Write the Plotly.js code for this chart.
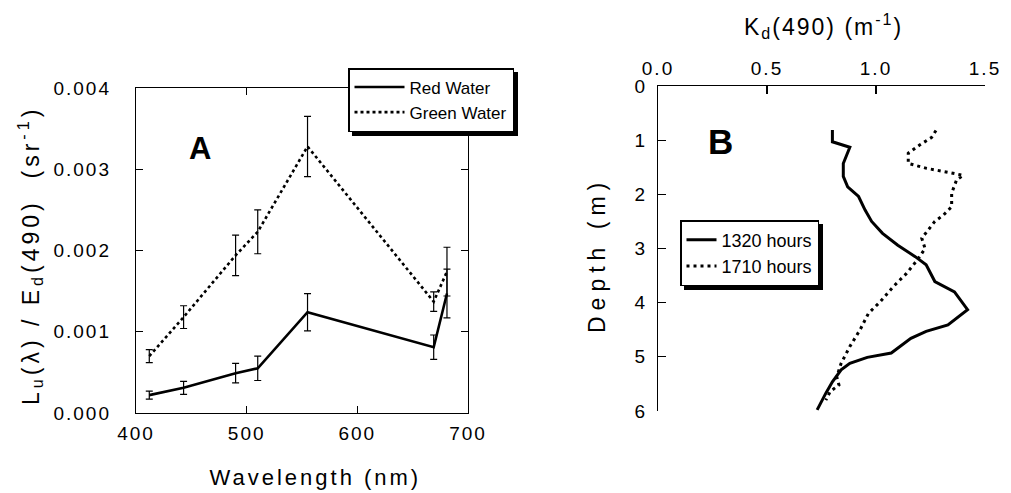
<!DOCTYPE html>
<html><head><meta charset="utf-8">
<script src="https://cdn.plot.ly/plotly-3.0.1.min.js"></script>
<style>
html,body{margin:0;padding:0;background:#fff;}
#chart{width:1011px;height:493px;}
.xtick text,.ytick text,.x2tick text,.y2tick text{letter-spacing:2px;}
.annotation[data-index="0"] text{letter-spacing:3px;}
.annotation[data-index="1"] text{letter-spacing:4px;}
.annotation[data-index="2"] text{letter-spacing:2px;}
.annotation[data-index="3"] text{letter-spacing:6px;}
g.legend rect.bg,g.legend2 rect.bg{filter:drop-shadow(4px 4px 0 #000);}
</style>
</head><body><div id="chart"></div>
<script>
// Panel A: reflectance ratio vs wavelength
const wavelengths = [412, 443, 490, 510, 555, 669, 681];
const redWater = [0.00022, 0.00031, 0.00049, 0.00055, 0.00124, 0.00081, 0.00147];
const redWaterErr = [0.00005, 0.00008, 0.00012, 0.00015, 0.00023, 0.00015, 0.00030];
const greenWater = [0.00070, 0.00118, 0.00194, 0.00223, 0.00328, 0.00137, 0.00174];
const greenWaterErr = [0.00008, 0.00014, 0.00025, 0.00027, 0.00037, 0.00012, 0.00030];

// Panel B: Kd(490) profiles
const depth1320 = [0.81, 1.03, 1.13, 1.43, 1.67, 1.86, 2.04, 2.29, 2.50, 2.72, 2.94, 3.15, 3.30, 3.61, 3.80, 4.13, 4.41, 4.53, 4.66, 4.93, 5.01, 5.12, 5.24, 5.46, 5.67, 5.98];
const kd1320 = [0.80, 0.80, 0.88, 0.85, 0.85, 0.87, 0.92, 0.95, 0.98, 1.03, 1.10, 1.18, 1.23, 1.27, 1.36, 1.42, 1.33, 1.23, 1.16, 1.07, 0.96, 0.88, 0.84, 0.80, 0.77, 0.73];
const depth1710 = [0.82, 0.95, 1.09, 1.24, 1.43, 1.52, 1.60, 1.65, 1.73, 1.98, 2.23, 2.38, 2.50, 2.66, 2.81, 3.00, 3.21, 3.46, 3.70, 3.98, 4.20, 4.50, 4.81, 5.12, 5.37, 5.52, 5.64, 5.80];
const kd1710 = [1.275, 1.255, 1.20, 1.148, 1.148, 1.232, 1.34, 1.40, 1.37, 1.347, 1.347, 1.31, 1.27, 1.24, 1.21, 1.225, 1.19, 1.14, 1.08, 1.02, 0.965, 0.927, 0.88, 0.84, 0.82, 0.83, 0.79, 0.77];

const W = 1011, H = 493;
const px = v => v / W;
const py = v => 1 - v / H;
const FONT = 'Liberation Sans, Arial, sans-serif';

const errStyle = {type: 'data', visible: true, color: '#000', thickness: 1.2, width: 3.5};

const traces = [
  {x: wavelengths, y: redWater, name: 'Red Water', type: 'scatter', mode: 'lines',
   line: {color: '#000', width: 2.6}, error_y: Object.assign({array: redWaterErr}, errStyle),
   xaxis: 'x', yaxis: 'y', legend: 'legend'},
  {x: wavelengths, y: greenWater, name: 'Green Water', type: 'scatter', mode: 'lines',
   line: {color: '#000', width: 2.6, dash: '3px,3px'}, error_y: Object.assign({array: greenWaterErr}, errStyle),
   xaxis: 'x', yaxis: 'y', legend: 'legend'},
  {x: kd1320, y: depth1320, name: '1320 hours', type: 'scatter', mode: 'lines',
   line: {color: '#000', width: 3}, xaxis: 'x2', yaxis: 'y2', legend: 'legend2'},
  {x: kd1710, y: depth1710, name: '1710 hours', type: 'scatter', mode: 'lines',
   line: {color: '#000', width: 3, dash: '3px,4px'}, xaxis: 'x2', yaxis: 'y2', legend: 'legend2'}
];

const axBase = {showgrid: false, zeroline: false, showline: true, linecolor: '#000', linewidth: 1.2,
  ticks: 'inside', tickcolor: '#000', tickwidth: 1.2, automargin: false,
  tickfont: {family: FONT, size: 19, color: '#000'}};

const layout = {
  width: W, height: H,
  margin: {l: 0, r: 0, t: 0, b: 0, pad: 0},
  paper_bgcolor: '#fff', plot_bgcolor: 'rgba(0,0,0,0)',
  font: {family: FONT, color: '#000'},
  showlegend: true,
  xaxis: Object.assign({}, axBase, {domain: [px(136), px(468)], range: [400, 700], dtick: 100, tick0: 400,
    ticklen: 7, mirror: 'ticks', anchor: 'y', ticklabelstandoff: 3}),
  yaxis: Object.assign({}, axBase, {domain: [py(413), py(88)], range: [0, 0.004], dtick: 0.001, tick0: 0,
    tickformat: '.3f', ticklen: 7, mirror: 'ticks', anchor: 'x', ticklabelstandoff: 20}),
  xaxis2: Object.assign({}, axBase, {domain: [px(658), px(985)], range: [0, 1.5], dtick: 0.5, tick0: 0,
    tickformat: '.1f', side: 'top', ticklen: 8, anchor: 'y2', ticklabelstandoff: 2}),
  yaxis2: Object.assign({}, axBase, {domain: [py(411), py(86)], range: [6, 0], dtick: 1, tick0: 0,
    ticklen: 8, anchor: 'x2', ticklabelstandoff: 6}),
  legend: {x: px(348), y: py(68), xanchor: 'left', yanchor: 'top', bgcolor: '#fff', bordercolor: '#000',
    borderwidth: 1.5, font: {family: FONT, size: 17, color: '#000'}, itemwidth: 50, tracegroupgap: 0},
  legend2: {x: px(680), y: py(220), xanchor: 'left', yanchor: 'top', bgcolor: '#fff', bordercolor: '#000',
    borderwidth: 1.5, font: {family: FONT, size: 18, color: '#000'}, itemwidth: 30, tracegroupgap: 0},
  annotations: [
    {text: 'Wavelength (nm)', xref: 'paper', yref: 'paper', x: px(315), y: py(477), xanchor: 'center', yanchor: 'middle',
     showarrow: false, font: {family: FONT, size: 22, color: '#000'}},
    {text: 'L<sub>u</sub>(λ) / E<sub>d</sub>(490)  (sr<sup>-1</sup>)', xref: 'paper', yref: 'paper', x: px(30), y: py(256),
     xanchor: 'center', yanchor: 'middle', textangle: -90, showarrow: false, font: {family: FONT, size: 23, color: '#000'}},
    {text: 'K<sub>d</sub>(490) (m<sup>-1</sup>)', xref: 'paper', yref: 'paper', x: px(823), y: py(26), xanchor: 'center', yanchor: 'middle',
     showarrow: false, font: {family: FONT, size: 23, color: '#000'}},
    {text: 'Depth (m)', xref: 'paper', yref: 'paper', x: px(597), y: py(255), xanchor: 'center', yanchor: 'middle',
     textangle: -90, showarrow: false, font: {family: FONT, size: 23, color: '#000'}},
    {text: '<b>A</b>', xref: 'paper', yref: 'paper', x: px(200), y: py(148), xanchor: 'center', yanchor: 'middle',
     showarrow: false, font: {family: FONT, size: 31, color: '#000'}},
    {text: '<b>B</b>', xref: 'paper', yref: 'paper', x: px(720), y: py(141), xanchor: 'center', yanchor: 'middle',
     showarrow: false, font: {family: FONT, size: 35, color: '#000'}}
  ]
};

Plotly.newPlot('chart', traces, layout, {staticPlot: true, displayModeBar: false});
</script>
</body></html>
